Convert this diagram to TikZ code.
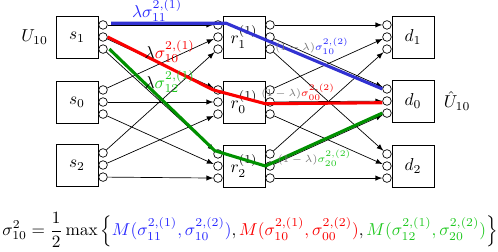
\documentclass[tikz,border=0pt]{standalone}
\usepackage{amsmath}
\usepackage{xcolor}
\usetikzlibrary{arrows}
\usetikzlibrary{positioning}

\definecolor{routeblue}{RGB}{50,50,210}
\definecolor{routered}{RGB}{250,0,0}
\definecolor{routegreen}{RGB}{0,145,0}
\definecolor{textblue}{RGB}{40,40,255}
\definecolor{textgreen}{RGB}{30,200,30}

\tikzset{
  unit/.style={draw, minimum width=24.4pt, minimum height=24.4pt, inner sep=0pt},
  port/.style={draw, circle, fill=white, inner sep=0pt, minimum size=5pt},
  link/.style={-latex},
  route/.style={line width=1.8pt, line join=round},
  wlabel/.style={inner sep=1pt},
  slabel/.style={font=\fontsize{6}{7}\selectfont, inner sep=1pt, text=black!55},
}

\begin{document}
\begin{tikzpicture}[x=0.58pt,y=-0.58pt]
\useasboundingbox (0,0) rectangle (498,251);

\node[unit] (s1) at (77,37) {$s_1$};
\node[unit] (s0) at (77,102) {$s_0$};
\node[unit] (s2) at (77,165) {$s_2$};

\node[unit] (r1) at (244,37) {$r_1^{(1)}$};
\node[unit] (r0) at (244,102) {$r_0^{(1)}$};
\node[unit] (r2) at (244,166) {$r_2^{(1)}$};

\node[unit] (d1) at (413,37) {$d_1$};
\node[unit] (d0) at (413,101) {$d_0$};
\node[unit] (d2) at (413,166) {$d_2$};

\node[left=1pt of s1] (u) {$U_{10}$};
\node[right=2pt of d0] (uhat) {$\hat{U}_{10}$};

% ports
\foreach \b in {s1,s0,s2,r1,r0,r2}
  \foreach \k/\dy in {1/7pt,2/0pt,3/-7pt}
    \node[port, anchor=west] (\b-o\k) at ([yshift=\dy]\b.east) {};
\foreach \b in {r1,r0,r2,d1,d0,d2}
  \foreach \k/\dy in {1/7pt,2/0pt,3/-7pt}
    \node[port, anchor=east] (\b-i\k) at ([yshift=\dy]\b.west) {};

% links
\foreach \a/\m in {1/1,0/2,2/3}
  \foreach \b/\k in {1/1,0/2,2/3}{
    \draw[link] (s\a-o\k) -- (r\b-i\m);
    \draw[link] (r\a-o\k) -- (d\b-i\m);
  }

% routes
\draw[route, routeblue] ([xshift=2pt,yshift=1pt]s1-o1.east)
  -- node[wlabel, pos=0.4, above=-1pt, text=textblue] {$\lambda\sigma^{2,(1)}_{11}$} ([xshift=2pt,yshift=1pt]r1-i1.east)
  -- node[slabel, pos=0.55, above=1pt] {$(1-\lambda){\color{textblue}\sigma^{2,(2)}_{10}}$} (d0-i1.west);
\draw[route, routered] (s1-o2.east)
  -- node[wlabel, pos=0.45, above right=-3pt and -8pt, text=black] {$\lambda{\color{routered}\sigma^{2,(1)}_{10}}$} (r0-i1.west)
  -- ([yshift=-1pt]r0-o2.west)
  -- node[slabel, pos=0.28, above=0pt] {$(1-\lambda){\color{routered}\sigma^{2,(2)}_{00}}$} ([yshift=-1pt]d0-i2.west);
\draw[route, routegreen] ([xshift=1pt]s1-o3.east)
  -- node[wlabel, pos=0.32, right=-1pt, text=black] {$\lambda{\color{textgreen}\sigma^{2,(1)}_{12}}$} (r2-i1.north west)
  -- (r2-o2.west)
  -- node[slabel, pos=0.42, below=2pt] {$(1-\lambda){\color{textgreen}\sigma^{2,(2)}_{20}}$} (d0-i3.west);

\node (eq) at (250,230) {$\displaystyle \sigma^2_{10} = \frac{1}{2}\max\left\{{\color{textblue}M(\sigma^{2,(1)}_{11},\sigma^{2,(2)}_{10})}, {\color{routered}M(\sigma^{2,(1)}_{10},\sigma^{2,(2)}_{00})}, {\color{textgreen}M(\sigma^{2,(1)}_{12},\sigma^{2,(2)}_{20})}\right\}$};
\end{tikzpicture}
\end{document}
